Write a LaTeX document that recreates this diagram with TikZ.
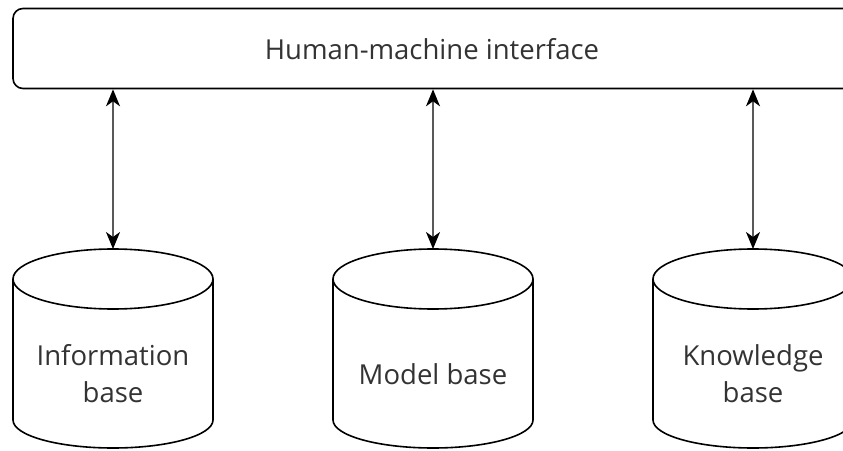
\documentclass[tikz,border=0pt]{standalone}
\usepackage{fontspec}
\setmainfont{Open Sans}
\usetikzlibrary{arrows.meta}
\tikzset{
  box/.style={draw=black, line width=1.6pt, rounded corners=10pt, minimum width=847pt, minimum height=80pt, inner sep=0pt},
  lbl/.style={text=black!80, font=\fontsize{27.5}{37}\selectfont, align=center, inner sep=0pt},
  cyl/.style={draw=black, line width=1.6pt},
  link/.style={draw=black!65, line width=1.5pt, {Stealth[length=17pt,width=14pt,inset=5pt,color=black]}-{Stealth[length=17pt,width=14pt,inset=5pt,color=black]}},
}
\newcommand{\mycyl}[1]{%
  \draw[cyl] (#1-100,171) -- (#1-100,30) arc (180:360:100 and 28) -- (#1+100,171);
  \draw[cyl] (#1,171) ellipse (100 and 30);
}
\begin{document}
\begin{tikzpicture}[x=1pt,y=1pt]
\useasboundingbox (0,0) rectangle (843,450);
\clip (0,0) rectangle (843,450);
\node[box] (hmi) at (436.5,401.5) {};
\node[lbl] (hmit) at (432,401) {Human-machine interface};
\mycyl{113}
\mycyl{433}
\mycyl{753}
\coordinate (t1) at (113,201);
\coordinate (t2) at (433,201);
\coordinate (t3) at (753,201);
\node[lbl] (info) at (113,76) {Information\\base};
\node[lbl] (model) at (433,76) {Model base};
\node[lbl] (know) at (753,76) {Knowledge\\base};
\draw[link] (hmi.south -| t1) -- (t1);
\draw[link] (hmi.south -| t2) -- (t2);
\draw[link] (hmi.south -| t3) -- (t3);
\end{tikzpicture}
\end{document}
